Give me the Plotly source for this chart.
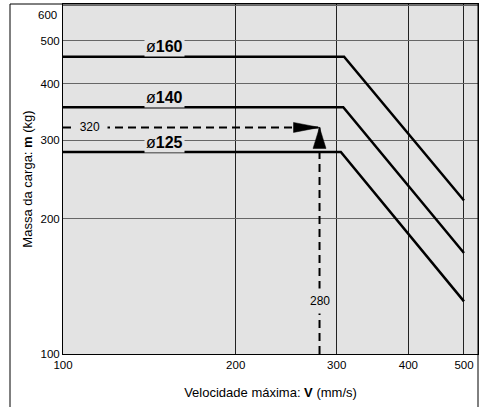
import math
import plotly.graph_objects as go

# ---- data ----
series_names = ["ø160", "ø140", "ø125"]
series_bold = ["160", "140", "125"]
v_start = [100, 100, 100]
v_break = [309, 308, 305]
v_end = [500, 500, 500]
m_flat = [460, 355, 282]
m_end = [220, 168, 131]

example_v = 280
example_m = 320

x_ticks = [100, 200, 300, 400, 500]
y_ticks = [100, 200, 300, 400, 500, 600]

# ---- layout geometry ----
W, H = 482, 407
ML, MR, MT, MB = 63, 4, 4, 53
PW, PH = W - ML - MR, H - MT - MB
x_range = [2.0, 2.7234]
y_range = [2.0, 2.7804]
x_ppd = PW / (x_range[1] - x_range[0])
y_ppd = PH / (y_range[1] - y_range[0])

FONT = "Liberation Sans, Arial, sans-serif"
PLOT_BG = "#e3e3e3"

fig = go.Figure()

for name, vs, vb, ve, mf, me in zip(series_names, v_start, v_break, v_end, m_flat, m_end):
    fig.add_trace(go.Scatter(x=[vs, vb, ve], y=[mf, mf, me], mode="lines",
                             line=dict(color="black", width=2.5), name=name,
                             showlegend=False, hoverinfo="skip"))

# dashed guide lines
fig.add_trace(go.Scatter(x=[x_ticks[0], example_v], y=[example_m, example_m], mode="lines",
                         line=dict(color="black", width=2, dash="8px,5px"),
                         showlegend=False, hoverinfo="skip"))
fig.add_trace(go.Scatter(x=[example_v, example_v], y=[y_ticks[0], example_m], mode="lines",
                         line=dict(color="black", width=2, dash="8px,5px"),
                         showlegend=False, hoverinfo="skip"))

# arrowheads (sizes in pixels converted through the log scales)
def xoff(v, px):
    return v * 10 ** (px / x_ppd)

def yoff(m, px):
    return m * 10 ** (px / y_ppd)

hx = [example_v, xoff(example_v, -26), xoff(example_v, -26), example_v]
hy = [example_m, yoff(example_m, 5), yoff(example_m, -5), example_m]
fig.add_trace(go.Scatter(x=hx, y=hy, mode="lines", fill="toself", fillcolor="black",
                         line=dict(color="black", width=0.5), showlegend=False, hoverinfo="skip"))
vx = [example_v, xoff(example_v, -6.5), xoff(example_v, 6.5), example_v]
vy = [example_m, yoff(example_m, -21), yoff(example_m, -21), example_m]
fig.add_trace(go.Scatter(x=vx, y=vy, mode="lines", fill="toself", fillcolor="black",
                         line=dict(color="black", width=0.5), showlegend=False, hoverinfo="skip"))

annotations = []
for name, bold, mf in zip(series_names, series_bold, m_flat):
    annotations.append(dict(x=math.log10(150), y=math.log10(mf), xref="x", yref="y",
                            text="ø<b>" + bold + "</b>", showarrow=False, yshift=10,
                            font=dict(family=FONT, size=16, color="black"),
                            bgcolor=PLOT_BG, borderpad=1))
annotations.append(dict(x=0, y=math.log10(example_m), xref="paper", yref="y",
                        xanchor="left", xshift=8,
                        text="&nbsp;&nbsp;" + str(example_m) + "&nbsp;&nbsp;", showarrow=False,
                        font=dict(family=FONT, size=12, color="black"),
                        bgcolor=PLOT_BG, borderpad=1))
annotations.append(dict(x=math.log10(example_v), y=math.log10(131), xref="x", yref="y",
                        text=str(example_v), showarrow=False,
                        font=dict(family=FONT, size=12, color="black"),
                        bgcolor=PLOT_BG, borderpad=5))
# top y tick label (shifted down inside the frame)
annotations.append(dict(x=0, y=math.log10(y_ticks[-1]), xref="paper", yref="y",
                        xanchor="right", xshift=-4, yshift=-9.5,
                        text=str(y_ticks[-1]), showarrow=False,
                        font=dict(family=FONT, size=11.5, color="black")))

fig.update_layout(
    width=W, height=H,
    margin=dict(l=ML, r=MR, t=MT, b=MB, pad=0),
    paper_bgcolor="white", plot_bgcolor=PLOT_BG,
    font=dict(family=FONT, size=11.5, color="black"),
    annotations=annotations,
    shapes=[dict(type="rect", xref="paper", yref="paper",
                 x0=(10 - ML) / PW, x1=1, y0=-0.2, y1=1,
                 line=dict(color="black", width=1), fillcolor="rgba(0,0,0,0)", layer="above")],
    xaxis=dict(type="log", range=x_range, tickvals=x_ticks,
               ticktext=[str(t) for t in x_ticks],
               showgrid=True, gridcolor="#222", gridwidth=1,
               showline=True, linecolor="black", linewidth=1, mirror=True,
               ticks="", zeroline=False,
               title=dict(text="Velocidade máxima: <b>V</b> (mm/s)",
                          font=dict(family=FONT, size=13), standoff=18)),
    yaxis=dict(type="log", range=y_range, tickvals=y_ticks,
               ticktext=[str(t) if t != y_ticks[-1] else "" for t in y_ticks],
               showgrid=True, gridcolor="#666", gridwidth=1,
               showline=True, linecolor="black", linewidth=1, mirror=True,
               ticks="", zeroline=False,
               title=dict(text="Massa da carga: <b>m</b> (kg)",
                          font=dict(family=FONT, size=13), standoff=4)),
)

fig.write_html("out.html")
